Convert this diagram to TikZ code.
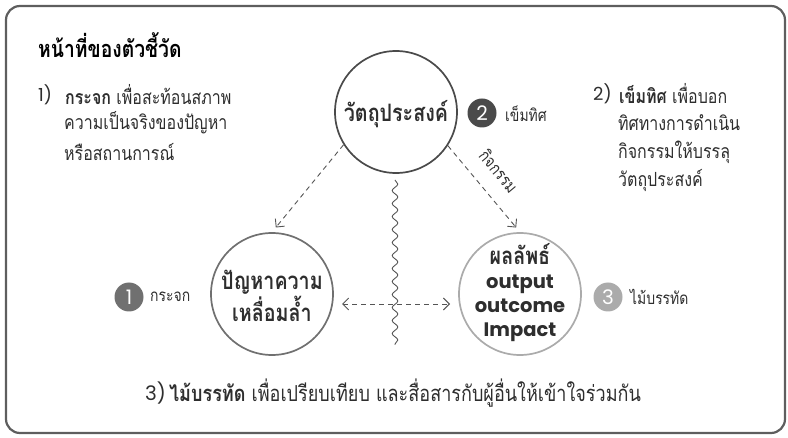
\documentclass[tikz,border=0pt]{standalone}
\usepackage{fontspec}
\setmainfont[Script=Thai, FakeStretch=0.82]{Loma}
\newfontfamily\poppins{Poppins}
\usetikzlibrary{arrows.meta,decorations.pathmorphing}
\definecolor{txt}{HTML}{2E2E2E}
\definecolor{frame}{HTML}{5E5E5E}
\definecolor{cdark}{HTML}{4A4A4A}
\definecolor{cmid}{HTML}{707070}
\definecolor{clight}{HTML}{ABABAB}
\definecolor{arr}{HTML}{555555}
\tikzset{
  body/.style={anchor=west, inner sep=0pt, text=txt, font=\fontsize{19.5}{22}\selectfont},
  num/.style={anchor=west, inner sep=0pt, text=txt, font=\poppins\fontsize{18}{20}\selectfont},
  ttl/.style={anchor=west, inner sep=0pt, text=black, font=\fontsize{23.5}{26}\selectfont\bfseries},
  bigcirc/.style={circle, minimum size=122pt, inner sep=0pt, line width=1.7pt, fill=white},
  ctext/.style={inner sep=0pt, text=txt, font=\fontsize{24}{26}\selectfont\bfseries},
  etext/.style={anchor=base, inner sep=0pt, text=txt, font=\poppins\fontsize{19.5}{22}\selectfont\bfseries},
  badge/.style={circle, minimum size=29pt, inner sep=0pt, text=white, font=\poppins\fontsize{20}{20}\selectfont},
  blabel/.style={anchor=west, inner sep=0pt, text=txt, font=\fontsize{17}{19}\selectfont},
  darr/.style={draw=arr, line width=0.9pt, dash pattern=on 5pt off 4pt, -{Straight Barb[length=6pt,width=12pt]}},
}
\begin{document}
\begin{tikzpicture}[x=1pt,y=-1pt]
\useasboundingbox (0,0) rectangle (788,438);
\draw[frame, line width=2.2pt, rounded corners=14pt] (6,6) rectangle (785,433);

% title
\node[ttl] (title) at (38,45) {หน้าที่ของตัวชี้วัด};

% left description
\node[num] (n1) at (38,95) {1)};
\node[body] (l1) at (65,95) {\textbf{กระจก} เพื่อสะท้อนสภาพ};
\node[body] (l2) at (64,123) {ความเป็นจริงของปัญหา};
\node[body] (l3) at (64,152) {หรือสถานการณ์};

% right description
\node[num] (n2) at (593,94) {2)};
\node[body] (r1) at (619,94) {\textbf{เข็มทิศ} เพื่อบอก};
\node[body] (r2) at (618,123) {ทิศทางการดำเนิน};
\node[body] (r3) at (618,152) {กิจกรรมให้บรรลุ};
\node[body] (r4) at (618,180) {วัตถุประสงค์};

% bottom line
\node[num, font=\poppins\fontsize{20}{22}\selectfont] (n3) at (145,393) {3)};
\node[body, font=\fontsize{22}{24}\selectfont] (b1) at (169,393) {\textbf{ไม้บรรทัด} เพื่อเปรียบเทียบ และสื่อสารกับผู้อื่นให้เข้าใจร่วมกัน};

% circles
\node[bigcirc, draw=cdark] (top) at (396,112) {};
\node[bigcirc, draw=cmid] (prob) at (272,294) {};
\node[bigcirc, draw=clight] (res) at (520,294) {};

\node[ctext] (topt) at (396,114) {วัตถุประสงค์};
\node[ctext] (probt1) at (272,282) {ปัญหาความ};
\node[ctext] (probt2) at (272,309) {เหลื่อมล้ำ};
\node[ctext, anchor=base] (rest1) at (520,265) {ผลลัพธ์};
\node[etext] (rest2) at (520,289) {output};
\node[etext] (rest3) at (520,313) {outcome};
\node[etext] (rest4) at (520,337) {Impact};

% badges
\node[badge, fill=cdark] (b2) at (482,113) {2};
\node[blabel] (b2l) at (505,114) {เข็มทิศ};
\node[badge, fill=cmid] (bb1) at (129,297) {1};
\node[blabel] (bb1l) at (150,297) {กระจก};
\node[badge, fill=clight] (bb3) at (608,297) {3};
\node[blabel] (bb3l) at (630,297) {ไม้บรรทัด};

% wavy divider
\coordinate (wtop) at (395,180);
\coordinate (wbot) at (395,345);
\draw[arr, line width=0.9pt, decorate, decoration={snake, segment length=13pt, amplitude=2.8pt}] (wtop) -- (wbot);

% arrows
\draw[darr, shorten >=6pt] (top.-148) -- (prob.north);
\draw[darr, shorten >=6pt] (top.-33) -- (res.north);
\node[rotate=-50, inner sep=0pt, text=txt, font=\fontsize{17}{19}\selectfont] (act) at (499,171) {กิจกรรม};
\coordinate (ha) at (342,304);
\coordinate (hb) at (450,304);
\draw[darr, {Straight Barb[length=6pt,width=12pt]}-{Straight Barb[length=6pt,width=12pt]}] (ha) -- (hb);
\end{tikzpicture}
\end{document}
